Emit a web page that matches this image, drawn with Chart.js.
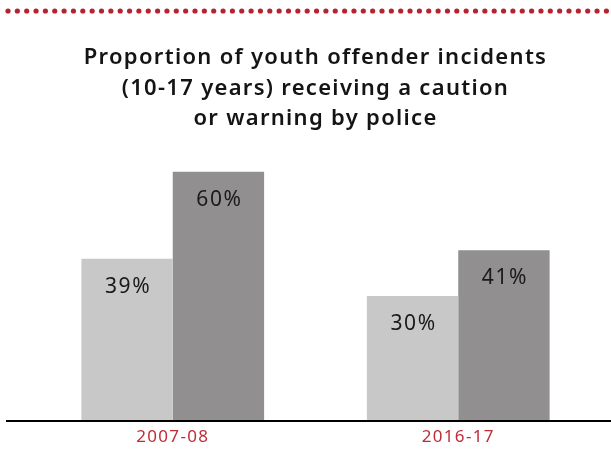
<!DOCTYPE html>
<html>
<head>
<meta charset="utf-8">
<script src="https://cdn.jsdelivr.net/npm/chart.js@4"></script>
<style>
  html, body { margin: 0; padding: 0; background: #fff; }
  #wrap { width: 611px; height: 450px; position: relative; }
</style>
</head>
<body>
<div id="wrap"><canvas id="chart"></canvas></div>
<script>
const periods = ['2007-08', '2016-17'];
const lightValues = [39, 30];
const darkValues = [60, 41];
const titleLines = [
  'Proportion of youth offender incidents',
  '(10-17 years) receiving a caution',
  'or warning by police'
];

const RED = '#be2d37';

// red dotted rule across the top, plus a little tracking for all text
const dottedRule = {
  id: 'dottedRule',
  beforeDraw(chart) {
    const ctx = chart.ctx;
    ctx.save();
    ctx.fillStyle = '#b52330';
    for (let x = 8; x < chart.width + 3; x += 9.35) {
      ctx.beginPath();
      ctx.arc(x, 11, 2.6, 0, Math.PI * 2);
      ctx.fill();
    }
    ctx.restore();
    ctx.letterSpacing = '1.3px';
  }
};

// black baseline running the full width under the bars
const baseline = {
  id: 'baseline',
  afterDatasetsDraw(chart) {
    const ctx = chart.ctx;
    ctx.save();
    ctx.fillStyle = '#000';
    ctx.fillRect(6, chart.chartArea.bottom, chart.width - 6, 2);
    ctx.restore();
  }
};

// percentage labels inside the top of each bar
const valueLabels = {
  id: 'valueLabels',
  afterDatasetsDraw(chart) {
    const ctx = chart.ctx;
    ctx.save();
    ctx.font = '21px "Noto Sans"';
    ctx.letterSpacing = '1.6px';
    ctx.fillStyle = '#1a1a1a';
    ctx.textAlign = 'center';
    ctx.textBaseline = 'middle';
    chart.data.datasets.forEach((ds, i) => {
      chart.getDatasetMeta(i).data.forEach((bar, j) => {
        ctx.fillText(ds.data[j] + '%', bar.x + 1, bar.y + 28);
      });
    });
    ctx.restore();
  }
};

new Chart(document.getElementById('chart'), {
  type: 'bar',
  data: {
    labels: periods,
    datasets: [
      {
        data: lightValues,
        backgroundColor: '#c8c8c8',
        borderWidth: 0,
      },
      {
        data: darkValues,
        backgroundColor: '#918f90',
        borderWidth: 0,
      },
    ],
  },
  options: {
    responsive: true,
    maintainAspectRatio: false,
    animation: false,
    layout: {
      padding: { left: 30, right: 10, top: 30, bottom: 0 },
    },
    datasets: {
      bar: { categoryPercentage: 0.64, barPercentage: 1 },
    },
    plugins: {
      legend: { display: false },
      tooltip: { enabled: false },
      title: {
        display: true,
        text: titleLines,
        color: '#141414',
        font: { family: '"Noto Sans"', size: 22, weight: '600', lineHeight: 1.38 },
        padding: { top: 13, bottom: 17 },
      },
    },
    scales: {
      x: {
        grid: { display: false, drawTicks: false },
        border: { display: false },
        afterFit(scale) { scale.height = 30; },
        ticks: {
          color: RED,
          padding: 7,
          font: { family: '"Noto Sans"', size: 17 },
        },
      },
      y: {
        display: false,
        min: 0,
        max: 65,
      },
    },
  },
  plugins: [dottedRule, baseline, valueLabels],
});
</script>
</body>
</html>
